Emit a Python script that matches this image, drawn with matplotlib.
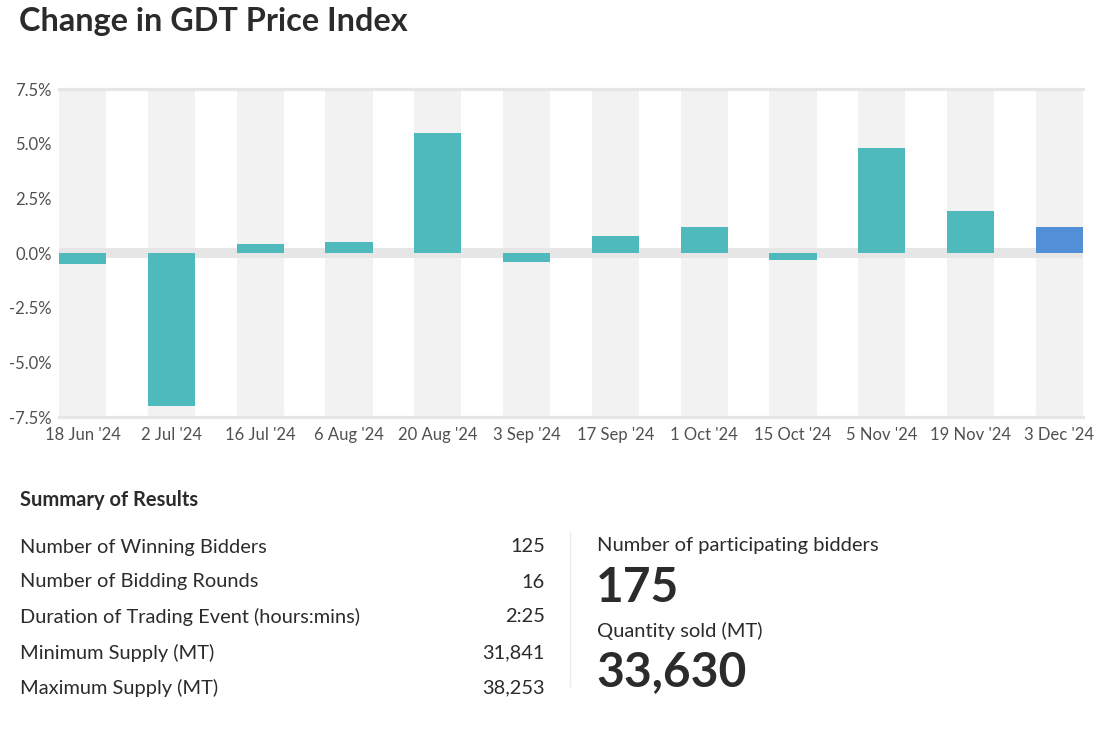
import matplotlib.pyplot as plt
from matplotlib.ticker import FuncFormatter

plt.rcParams['font.family'] = ['Lato', 'DejaVu Sans']

dates = ["18 Jun '24", "2 Jul '24", "16 Jul '24", "6 Aug '24", "20 Aug '24", "3 Sep '24",
         "17 Sep '24", "1 Oct '24", "15 Oct '24", "5 Nov '24", "19 Nov '24", "3 Dec '24"]
changes = [-0.5, -7.0, 0.4, 0.5, 5.5, -0.4, 0.8, 1.2, -0.3, 4.8, 1.9, 1.2]

summary_labels = ["Number of Winning Bidders", "Number of Bidding Rounds",
                  "Duration of Trading Event (hours:mins)", "Minimum Supply (MT)",
                  "Maximum Supply (MT)"]
summary_values = ["125", "16", "2:25", "31,841", "38,253"]

bidders = "175"
quantity = "33,630"

W, H = 1105, 730
fig = plt.figure(figsize=(W / 100, H / 100), dpi=100)

def fx(px):
    return px / W

def fy(py):
    return 1 - py / H

teal = '#4fbabb'
blue = '#528fd6'
dark = '#2b2b2b'

fig.text(fx(19), fy(22), "Change in GDT Price Index", fontsize=23.3, fontweight='bold',
         color=dark, va='center', ha='left')

# chart
x0, x1, ytop, ybot = 59, 1083, 89, 417
ax = fig.add_axes([fx(x0), fy(ybot), fx(x1 - x0), (ybot - ytop) / H])
bw = 0.53
pos = list(range(len(dates)))
ax.set_xlim(-bw / 2, len(dates) - 1 + bw / 2)
ax.set_ylim(-7.5, 7.5)

ax.bar(pos, [15] * len(pos), bottom=-7.5, width=bw, color='#f2f2f2', zorder=0)
ax.axhspan(-0.22, 0.22, color='#e6e6e6', zorder=1, lw=0)
ax.axhline(7.5, color='#e6e6e6', lw=2.3, zorder=1, clip_on=False)
ax.axhline(-7.5, color='#e6e6e6', lw=2.3, zorder=1, clip_on=False)

colors = [teal] * (len(changes) - 1) + [blue]
ax.bar(pos, changes, width=bw, color=colors, zorder=2)

ax.set_xticks(pos)
ax.set_xticklabels(dates)
ax.set_yticks([-7.5, -5, -2.5, 0, 2.5, 5, 7.5])
ax.yaxis.set_major_formatter(FuncFormatter(lambda v, p: f"{v:.1f}%"))
ax.tick_params(length=0, labelsize=12, labelcolor='#505050')
ax.tick_params(axis='x', pad=7)
ax.tick_params(axis='y', pad=5)
for s in ax.spines.values():
    s.set_visible(False)

# summary table
fig.text(fx(20), fy(500), "Summary of Results", fontsize=14.5, fontweight='bold',
         color=dark, va='center', ha='left')
row_y = [547, 582, 617, 653, 688]
for lab, val, y in zip(summary_labels, summary_values, row_y):
    fig.text(fx(20), fy(y), lab, fontsize=14.4, color=dark, va='center', ha='left')
    fig.text(fx(545), fy(y), val, fontsize=14.4, color=dark, va='center', ha='right')

fig.add_artist(plt.Line2D([fx(570), fx(570)], [fy(532), fy(686)], color='#ececec', lw=1))

fig.text(fx(597), fy(546), "Number of participating bidders", fontsize=14.5, color=dark,
         va='center', ha='left')
fig.text(fx(596), fy(588), bidders, fontsize=34.5, fontweight='bold', color=dark,
         va='center', ha='left')
fig.text(fx(597), fy(631), "Quantity sold (MT)", fontsize=14.5, color=dark,
         va='center', ha='left')
fig.text(fx(596), fy(672), quantity, fontsize=34.5, fontweight='bold', color=dark,
         va='center', ha='left')

fig.savefig('out.png', dpi=100, facecolor='white')
